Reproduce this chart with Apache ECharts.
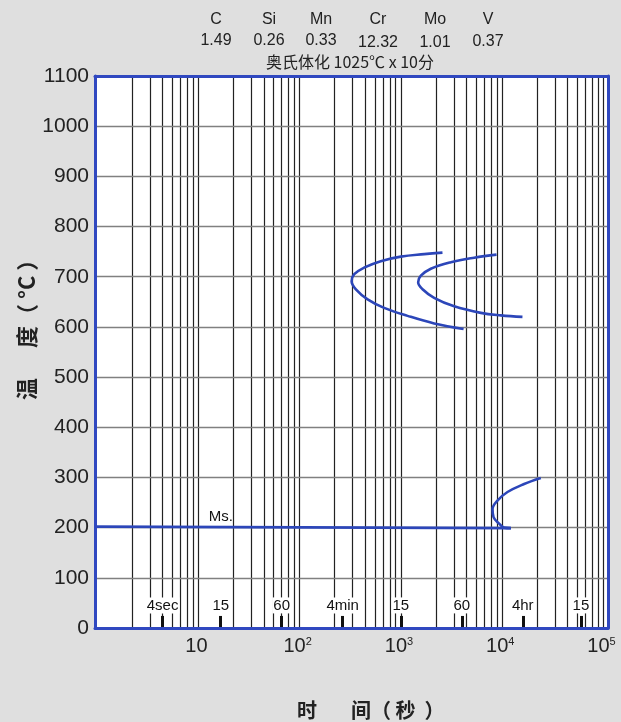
<!DOCTYPE html>
<html><head><meta charset="utf-8">
<script src="https://cdn.jsdelivr.net/npm/echarts@6/dist/echarts.min.js"></script>
<style>html,body{margin:0;padding:0;background:#dfdfdf;} #c{width:621px;height:722px;}</style>
</head><body><div id="c"></div>
<script>
// ---- data ----
const elements = ['C', 'Si', 'Mn', 'Cr', 'Mo', 'V'];
const contents = ['1.49', '0.26', '0.33', '12.32', '1.01', '0.37'];
const austenitizing = '奥氏体化 1025℃ x 10分';
const xMin = 0.86, xMax = 100000;
const yMin = 0, yMax = 1100, yStep = 100;
const decades = [1, 10, 100, 1000, 10000];
const minorMultipliers = [2, 3, 4, 5, 6, 7, 8, 9];
const timeMarks = [4, 15, 60, 240, 900, 3600, 14400, 54000];
const timeMarkLabels = ['4sec', '15', '60', '4min', '15', '60', '4hr', '15'];
const pearliteStart = [[2320,748],[1530,745],[900,740],[570,731],[390,718],[312,705],[294,691],[324,675],[423,655],[616,638],[1050,622],[1920,607],[3750,596]];
const pearliteFinish = [[7930,744],[4770,738],[2810,729],[1780,716],[1420,702],[1335,689],[1475,675],[1920,658],[3030,641],[5550,628],[8750,623],[14300,620]];
const bainiteStart = [[21700,299],[14850,287],[10180,271],[8100,254],[7240,237],[7410,221],[8410,208],[9430,200],[11000,199]];
const msLine = [[0.86,202],[11000,199]];
const msLabel = {name: 'Ms.', value: [15, 222]};
const timeLabelLevel = 45;
const timeTickTop = 24;

// ---- styles ----
const BLUE = '#3048c0';
const CURVE = '#2c46b9';
const LATIN = '"Liberation Sans", Arial, sans-serif';
const CJK = '"Noto Sans CJK SC", sans-serif';

const yTicks = [];
for (let v = yMin + yStep; v < yMax; v += yStep) yTicks.push(v);
const verticals = [];
decades.forEach(d => minorMultipliers.forEach(m => verticals.push(d * m)));

const gridMarkData = verticals.map(v => [{coord: [v, yMin]}, {coord: [v, yMax]}])
  .concat(yTicks.map(v => ({yAxis: v, lineStyle: {color: '#808080', width: 1.4}})));

const chart = echarts.init(document.getElementById('c'));
const headerX = [216, 269, 321, 378, 435, 488];
const headerValY = [41, 41, 41, 43, 43, 42];
const graphic = [];
elements.forEach((e, i) => {
  graphic.push({type: 'text', x: headerX[i], y: 20, style: {text: e, fontSize: 16, fontFamily: LATIN, fill: '#222', align: 'center', verticalAlign: 'middle'}});
  graphic.push({type: 'text', x: headerX[i], y: headerValY[i], style: {text: contents[i], fontSize: 16, fontFamily: LATIN, fill: '#222', align: 'center', verticalAlign: 'middle'}});
});
graphic.push({type: 'text', x: 350, y: 62, style: {text: austenitizing, fontSize: 16, fontFamily: CJK, fill: '#222', align: 'center', verticalAlign: 'middle'}});
graphic.push({type: 'text', x: 27, y: 389, rotation: Math.PI / 2, style: {text: '温', fontSize: 22, fontWeight: 'bold', fontFamily: CJK, fill: '#222', align: 'center', verticalAlign: 'middle'}});
graphic.push({type: 'text', x: 27, y: 348, rotation: Math.PI / 2, style: {text: '度（ °C ）', fontSize: 22, fontWeight: 'bold', fontFamily: CJK, fill: '#222', align: 'left', verticalAlign: 'middle'}});
graphic.push({type: 'text', x: 307, y: 710, style: {text: '时', fontSize: 20, fontWeight: 'bold', fontFamily: CJK, fill: '#222', align: 'center', verticalAlign: 'middle'}});
graphic.push({type: 'text', x: 351, y: 710, style: {text: '间（ 秒  ）', fontSize: 20, fontWeight: 'bold', fontFamily: CJK, fill: '#222', align: 'left', verticalAlign: 'middle'}});

function xLabel(v) {
  const l = Math.log10(v);
  const p = Math.round(l);
  if (Math.abs(l - p) > 1e-6 || p < 1) return '';
  if (p === 1) return '{b|10}';
  return '{b|10}{s|' + p + '}';
}

const borderLine = {show: true, onZero: false, lineStyle: {color: BLUE, width: 3}};
const option = {
  backgroundColor: '#dfdfdf',
  animation: false,
  grid: {left: 95, right: 13, top: 76, bottom: 94, show: true, backgroundColor: '#fff', borderWidth: 0},
  graphic: graphic,
  xAxis: [
    {type: 'log', logBase: 10, min: xMin, max: xMax, position: 'bottom', z: 10,
     axisLine: borderLine,
     axisTick: {show: false}, splitLine: {show: false}, minorSplitLine: {show: false},
     axisLabel: {show: true, formatter: xLabel, margin: 8, padding: [0, 13, 0, 0], showMinLabel: true, showMaxLabel: true,
       rich: {b: {fontSize: 20, fontFamily: LATIN, color: '#222'}, s: {fontSize: 11, fontFamily: LATIN, color: '#222', verticalAlign: 'top'}}}},
    {type: 'log', logBase: 10, min: xMin, max: xMax, position: 'top', z: 10,
     axisLine: borderLine,
     axisTick: {show: false}, splitLine: {show: false}, axisLabel: {show: false}}
  ],
  yAxis: [
    {type: 'value', min: yMin, max: yMax, interval: yStep, position: 'left', z: 10,
     axisLine: borderLine,
     axisTick: {show: false}, splitLine: {show: false},
     axisLabel: {fontSize: 21, fontFamily: LATIN, color: '#222', margin: 6, formatter: v => String(v)}},
    {type: 'value', min: yMin, max: yMax, interval: yStep, position: 'right', z: 10,
     axisLine: borderLine,
     axisTick: {show: false}, splitLine: {show: false}, axisLabel: {show: false}}
  ],
  series: [
    {type: 'line', name: 'grid', data: [], z: 1, silent: true,
     markLine: {z: 1, silent: true, symbol: ['none', 'none'], label: {show: false}, animation: false,
       lineStyle: {color: '#222', width: 1.2, type: 'solid'}, emphasis: {disabled: true}, data: gridMarkData}},
    {type: 'line', name: 'ticks', data: [], z: 2, silent: true,
     markLine: {z: 2, silent: true, symbol: ['none', 'none'], label: {show: false}, animation: false,
       lineStyle: {color: '#111', width: 3, type: 'solid'}, emphasis: {disabled: true},
       data: timeMarks.map(t => [{coord: [t, yMin]}, {coord: [t, timeTickTop]}])}},
    {type: 'scatter', name: 'timeLabels', z: 4, silent: true, symbol: 'rect', symbolSize: 1, itemStyle: {color: '#fff', opacity: 1},
     data: timeMarks.map((t, i) => ({name: timeMarkLabels[i], value: [t, timeLabelLevel]})),
     label: {show: true, position: 'inside', formatter: '{b}', fontSize: 15, fontFamily: LATIN, color: '#111', backgroundColor: '#fff', padding: [1, 1, 0, 1]}},
    {type: 'line', name: 'Ps', data: pearliteStart, smooth: 0.4, symbol: 'none', z: 5, lineStyle: {color: CURVE, width: 2.6}},
    {type: 'line', name: 'Pf', data: pearliteFinish, smooth: 0.4, symbol: 'none', z: 5, lineStyle: {color: CURVE, width: 2.6}},
    {type: 'line', name: 'Bs', data: bainiteStart, smooth: 0.4, symbol: 'none', z: 5, lineStyle: {color: CURVE, width: 2.6}},
    {type: 'line', name: 'Ms', data: msLine, symbol: 'none', z: 5, lineStyle: {color: CURVE, width: 2.6}},
    {type: 'scatter', name: 'msLabel', z: 6, silent: true, symbol: 'rect', symbolSize: 1, itemStyle: {color: '#fff', opacity: 1},
     data: [msLabel], label: {show: true, position: 'inside', formatter: '{b}', fontSize: 15, fontFamily: LATIN, color: '#111'}}
  ]
};
chart.setOption(option);
</script></body></html>
